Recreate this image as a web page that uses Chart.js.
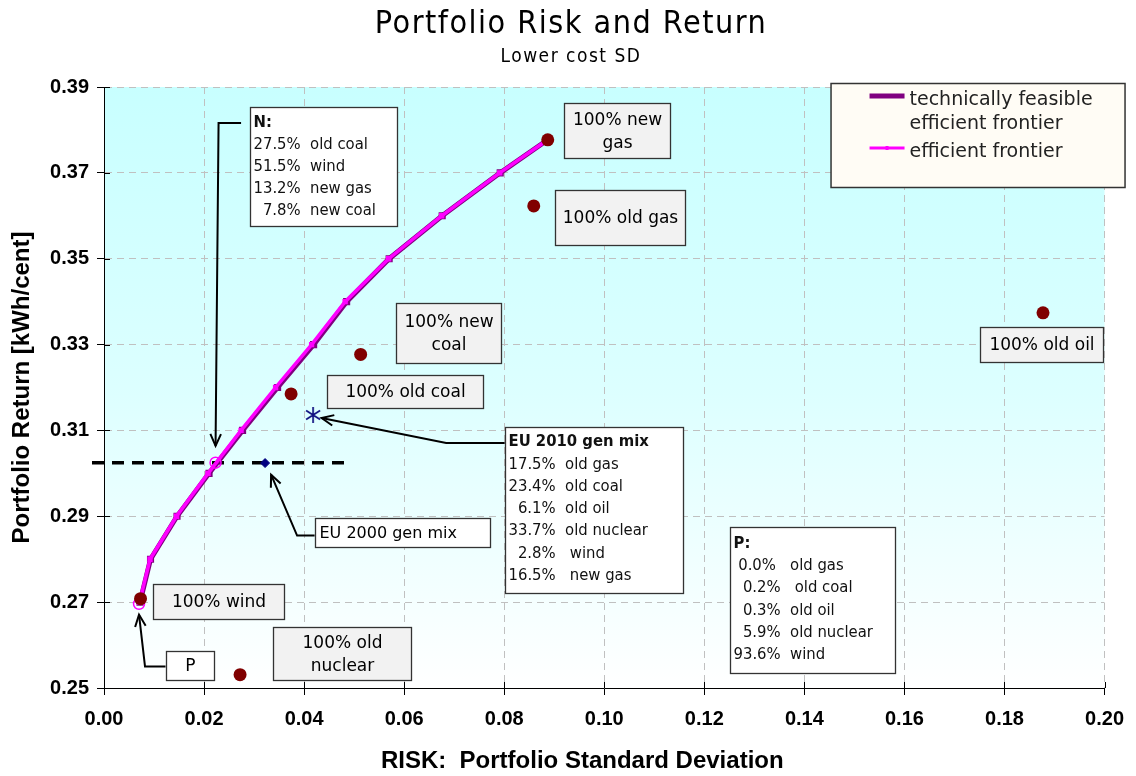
<!DOCTYPE html>
<html>
<head>
<meta charset="utf-8">
<script src="https://cdn.jsdelivr.net/npm/chart.js@4.4.1/dist/chart.umd.min.js"></script>
<style>
html,body{margin:0;padding:0;background:#ffffff;}
#wrap{width:1136px;height:776px;}
</style>
</head>
<body>
<div id="wrap"><canvas id="c" width="1136" height="776"></canvas></div>
<script>
// ---------- data ----------
const xTickValues = [0.00, 0.02, 0.04, 0.06, 0.08, 0.10, 0.12, 0.14, 0.16, 0.18, 0.20];
const xTickLabels = ['0.00','0.02','0.04','0.06','0.08','0.10','0.12','0.14','0.16','0.18','0.20'];
const yTickValues = [0.25, 0.27, 0.29, 0.31, 0.33, 0.35, 0.37, 0.39];
const yTickLabels = ['0.25','0.27','0.29','0.31','0.33','0.35','0.37','0.39'];

const efficientRisk   = [0.0071, 0.0092, 0.0145, 0.0208, 0.0274, 0.0343, 0.0415, 0.0482, 0.0569, 0.0675, 0.0791, 0.0887];
const efficientReturn = [0.2700, 0.2800, 0.2900, 0.3000, 0.3100, 0.3200, 0.3300, 0.3400, 0.3500, 0.3600, 0.3700, 0.3777];
const feasibleRisk    = [0.0072, 0.0093, 0.0146, 0.0210, 0.0277, 0.0347, 0.0419, 0.0485, 0.0570, 0.0676, 0.0792, 0.0887];
const feasibleReturn  = [0.2700, 0.2800, 0.2900, 0.3000, 0.3100, 0.3200, 0.3300, 0.3400, 0.3500, 0.3600, 0.3700, 0.3777];

const techNames  = ['100% new gas','100% old gas','100% old oil','100% new coal','100% old coal','100% wind','100% old nuclear'];
const techRisk   = [0.0887, 0.0859, 0.1877, 0.0513, 0.0374, 0.0073, 0.0272];
const techReturn = [0.3777, 0.3623, 0.3374, 0.3277, 0.3185, 0.2708, 0.2531];
const techLabelLines = [['100% new','gas'],['100% old gas'],['100% old oil'],['100% new','coal'],['100% old coal'],['100% wind'],['100% old','nuclear']];

const mixNames  = ['EU 2010 gen mix','EU 2000 gen mix'];
const mixRisk   = [0.0418, 0.0322];
const mixReturn = [0.3136, 0.3024];

const optNames  = ['N','P'];
const optRisk   = [0.0223, 0.0070];
const optReturn = [0.3025, 0.2696];

const refLineRisk   = [-0.0024, 0.0483];
const refLineReturn = [0.3025, 0.3025];

const nBoxLines   = ['N:','27.5%  old coal','51.5%  wind','13.2%  new gas','  7.8%  new coal'];
const euBoxLines  = ['EU 2010 gen mix','17.5%  old gas','23.4%  old coal','  6.1%  old oil','33.7%  old nuclear','  2.8%   wind','16.5%   new gas'];
const pBoxLines   = ['P:',' 0.0%   old gas','  0.2%   old coal','  0.3%  old oil','  5.9%  old nuclear','93.6%  wind'];

const legendLabels = [['technically feasible','efficient frontier'],['efficient frontier']];

// ---------- annotation placement (data units) ----------
const labelBoxPos = [
  [0.0920, 0.3863, 0.1131, 0.3735],
  [0.0901, 0.3660, 0.1161, 0.3532],
  [0.1751, 0.3341, 0.1996, 0.3260],
  [0.0584, 0.3397, 0.0793, 0.3257],
  [0.0445, 0.3229, 0.0757, 0.3153],
  [0.0097, 0.2743, 0.0360, 0.2661],
  [0.0338, 0.2643, 0.0614, 0.2519]
];
const eu2000BoxPos = [0.0422, 0.2897, 0.0771, 0.2829];
const pSmallBoxPos = [0.0123, 0.2587, 0.0219, 0.2519];
const nBoxPos  = [0.0292, 0.3853, 0.0586, 0.3576];
const euBoxPos = [0.0801, 0.3108, 0.1157, 0.2722];
const pBoxPos  = [0.1251, 0.2876, 0.1581, 0.2536];
const arrows = [
  [[0.0274,0.3816],[0.0229,0.3816],[0.0223,0.3064]],
  [[0.0801,0.3071],[0.0684,0.3071],[0.0435,0.3129]],
  [[0.0421,0.2855],[0.0386,0.2855],[0.0334,0.2997]],
  [[0.0123,0.2550],[0.0082,0.2550],[0.0070,0.2671]]
];

// ---------- styles ----------
const SANS = '"Liberation Sans", Arial, sans-serif';
const NARROW = '"Liberation Sans Narrow", "DejaVu Sans Condensed", "Liberation Sans", sans-serif';
const BOXFONT = '"DejaVu Sans", Verdana, sans-serif';
const BOXFONT_C = '"DejaVu Sans Condensed", "DejaVu Sans", sans-serif';

const asterisk = document.createElement('canvas');
asterisk.width = 18; asterisk.height = 18;
(function(){
  const c = asterisk.getContext('2d');
  c.strokeStyle = '#101080'; c.lineWidth = 1.7;
  c.beginPath();
  c.moveTo(9,1); c.lineTo(9,17);
  c.moveTo(2,4.5); c.lineTo(16,13.5);
  c.moveTo(16,4.5); c.lineTo(2,13.5);
  c.stroke();
})();

const pts = (xs, ys) => xs.map((x,i)=>({x:x, y:ys[i]}));

function drawArrow(ctx, p){
  ctx.beginPath();
  ctx.moveTo(p[0][0], p[0][1]);
  for (let i=1;i<p.length;i++) ctx.lineTo(p[i][0], p[i][1]);
  ctx.stroke();
  const [x1,y1] = p[p.length-2], [x2,y2] = p[p.length-1];
  const a = Math.atan2(y2-y1, x2-x1), L = 13, w = 0.42;
  ctx.beginPath();
  ctx.moveTo(x2 - L*Math.cos(a-w), y2 - L*Math.sin(a-w));
  ctx.lineTo(x2, y2);
  ctx.lineTo(x2 - L*Math.cos(a+w), y2 - L*Math.sin(a+w));
  ctx.stroke();
}

const bgPlugin = {
  id: 'bg',
  beforeDraw(chart){
    const {ctx, chartArea:a} = chart;
    ctx.save();
    ctx.fillStyle = '#ffffff';
    ctx.fillRect(0,0,chart.width,chart.height);
    const g = ctx.createLinearGradient(0, a.top, 0, a.bottom);
    g.addColorStop(0, '#c8ffff');
    g.addColorStop(0.5, '#dcffff');
    g.addColorStop(1, '#ffffff');
    ctx.fillStyle = g;
    ctx.fillRect(a.left, a.top, a.right-a.left, a.bottom-a.top);
    ctx.restore();
  }
};

const annPlugin = {
  id: 'ann',
  afterDatasetsDraw(chart){
    const {ctx, scales:{x, y}} = chart;
    const X = v => x.getPixelForValue(v), Y = v => y.getPixelForValue(v);
    ctx.save();
    // arrows
    ctx.strokeStyle = '#000'; ctx.lineWidth = 2; ctx.lineJoin = 'miter';
    arrows.forEach(a => drawArrow(ctx, a.map(q => [X(q[0]), Y(q[1])])));

    const rect = (b, fill) => {
      const x1 = Math.round(X(b[0]))+0.5, y1 = Math.round(Y(b[1]))+0.5;
      const x2 = Math.round(X(b[2]))+0.5, y2 = Math.round(Y(b[3]))+0.5;
      ctx.fillStyle = fill; ctx.fillRect(x1,y1,x2-x1,y2-y1);
      ctx.strokeStyle = '#333'; ctx.lineWidth = 1.3; ctx.strokeRect(x1,y1,x2-x1,y2-y1);
      return {x1,y1,x2,y2};
    };
    // technology label boxes
    ctx.textBaseline = 'middle';
    labelBoxPos.forEach((b,i) => {
      const r = rect(b, '#f2f2f2');
      const lines = techLabelLines[i];
      const lh = 23, cx = (r.x1+r.x2)/2, cy = (r.y1+r.y2)/2;
      ctx.fillStyle = '#000'; ctx.font = '17px ' + BOXFONT; ctx.textAlign = 'center';
      lines.forEach((t,k) => ctx.fillText(t, cx, cy + (k - (lines.length-1)/2)*lh + 1));
    });
    // EU 2000 label
    {
      const r = rect(eu2000BoxPos, '#ffffff');
      ctx.fillStyle = '#000'; ctx.font = '16px ' + BOXFONT; ctx.textAlign = 'left';
      ctx.fillText(mixNames[1], r.x1 + 4, (r.y1+r.y2)/2 + 1);
    }
    // P small label
    {
      const r = rect(pSmallBoxPos, '#ffffff');
      ctx.fillStyle = '#000'; ctx.font = '17px ' + BOXFONT; ctx.textAlign = 'center';
      ctx.fillText(optNames[1], (r.x1+r.x2)/2, (r.y1+r.y2)/2 + 1);
    }
    // composition boxes
    const compBox = (pos, lines, firstOff, lh) => {
      const r = rect(pos, '#ffffff');
      ctx.fillStyle = '#111'; ctx.textAlign = 'left';
      lines.forEach((t,k) => {
        ctx.font = (k===0 ? 'bold ' : '') + '16.5px ' + BOXFONT_C;
        ctx.fillText(t, r.x1 + 3, r.y1 + firstOff + k*lh);
      });
    };
    compBox(nBoxPos, nBoxLines, 15.5, 22);
    compBox(euBoxPos, euBoxLines, 14.5, 22.3);
    compBox(pBoxPos, pBoxLines, 16, 22.3);
    ctx.restore();
  },
  afterDraw(chart){
    const {ctx, chartArea:a, scales:{x, y}} = chart;
    ctx.save();
    // inner halves of tick marks
    ctx.strokeStyle = '#000'; ctx.lineWidth = 1;
    ctx.beginPath();
    xTickValues.forEach(v => { const px = Math.round(x.getPixelForValue(v))+0.5; ctx.moveTo(px, a.bottom); ctx.lineTo(px, a.bottom-6); });
    yTickValues.forEach(v => { const py = Math.round(y.getPixelForValue(v))+0.5; ctx.moveTo(a.left, py); ctx.lineTo(a.left+6, py); });
    ctx.stroke();

    // titles
    ctx.fillStyle = '#000'; ctx.textAlign = 'center'; ctx.textBaseline = 'alphabetic';
    const cx = chart.width/2 + 3;
    if ('letterSpacing' in ctx) ctx.letterSpacing = '1.5px';
    ctx.font = '32px ' + NARROW;
    ctx.fillText('Portfolio Risk and Return', cx, 33);
    if ('letterSpacing' in ctx) ctx.letterSpacing = '1.5px';
    ctx.font = '19px ' + NARROW;
    ctx.fillText('Lower cost SD', cx, 62);
    if ('letterSpacing' in ctx) ctx.letterSpacing = '0px';
    ctx.font = 'bold 24px ' + SANS;
    ctx.fillText('RISK:  Portfolio Standard Deviation', (a.left + a.right)/2 - 22, 768);

    // legend box
    const lx = a.right - 274, ly = a.top - 4, lw = 294, lh = 104;
    ctx.fillStyle = '#fffcf5'; ctx.fillRect(lx+0.5, ly+0.5, lw, lh);
    ctx.strokeStyle = '#333'; ctx.lineWidth = 1.5; ctx.strokeRect(lx+0.5, ly+0.5, lw, lh);
    const ds = chart.data.datasets;
    const feas = ds.find(d => d.id === 'feasible'), eff = ds.find(d => d.id === 'efficient');
    ctx.lineCap = 'butt';
    ctx.strokeStyle = feas.borderColor; ctx.lineWidth = 5;
    ctx.beginPath(); ctx.moveTo(lx+39, ly+13); ctx.lineTo(lx+74, ly+13); ctx.stroke();
    ctx.strokeStyle = eff.borderColor; ctx.lineWidth = 3;
    ctx.beginPath(); ctx.moveTo(lx+39, ly+65); ctx.lineTo(lx+74, ly+65); ctx.stroke();
    ctx.fillStyle = eff.borderColor; ctx.fillRect(lx+55, ly+63, 3, 4);
    ctx.fillStyle = '#222'; ctx.textAlign = 'left'; ctx.textBaseline = 'middle';
    ctx.font = '19px ' + BOXFONT;
    ctx.fillText(legendLabels[0][0], lx+79, ly+17);
    ctx.fillText(legendLabels[0][1], lx+79, ly+41);
    ctx.fillText(legendLabels[1][0], lx+79, ly+69);
    ctx.restore();
  }
};

const gridCommon = {
  color: '#c0c0c0', lineWidth: 1, tickColor: '#000', tickLength: 7, drawTicks: true
};
const borderCommon = { display: true, color: '#000', width: 1, dash: [7,5] };

const chart = new Chart(document.getElementById('c'), {
  type: 'scatter',
  data: {
    datasets: [
      { label: 'technologies', data: pts(techRisk, techReturn), backgroundColor: '#800000', borderColor: '#800000',
        pointRadius: 6.5, pointHoverRadius: 6.5, borderWidth: 0, order: 0 },
      { label: mixNames[0], data: [{x: mixRisk[0], y: mixReturn[0]}], pointStyle: asterisk, pointRadius: 9, order: 0 },
      { label: mixNames[1], data: [{x: mixRisk[1], y: mixReturn[1]}], pointStyle: 'rectRot', pointRadius: 4.5,
        backgroundColor: '#000080', borderColor: '#000080', borderWidth: 1, order: 0 },
      { label: 'N / P', data: pts(optRisk, optReturn), pointStyle: 'circle', pointRadius: 5.5,
        backgroundColor: 'rgba(255,255,255,0)', borderColor: '#ff00ff', borderWidth: 1.5, order: 1 },
      { id: 'efficient', label: 'efficient frontier', data: pts(efficientRisk, efficientReturn), showLine: true,
        borderColor: '#ff00ff', backgroundColor: '#ff00ff', borderWidth: 3.5, pointStyle: 'rect', pointRadius: 1.3, tension: 0, order: 2 },
      { id: 'feasible', label: 'technically feasible efficient frontier', data: pts(feasibleRisk, feasibleReturn), showLine: true,
        borderColor: '#800080', backgroundColor: '#800080', borderWidth: 5, pointStyle: 'rect', pointRadius: 1.5, tension: 0, order: 3 },
      { label: 'reference return', data: pts(refLineRisk, refLineReturn), showLine: true, borderColor: '#000',
        borderWidth: 3.5, borderDash: [12, 8], pointRadius: 0, clip: false, order: 4 }
    ]
  },
  options: {
    responsive: false,
    animation: false,
    devicePixelRatio: 1,
    layout: { padding: { top: 87, right: 26, bottom: 0, left: 0 } },
    plugins: { legend: { display: false }, tooltip: { enabled: false }, title: { display: false } },
    events: [],
    scales: {
      x: {
        type: 'linear', min: 0, max: 0.2,
        afterBuildTicks: s => { s.ticks = xTickValues.map(v => ({ value: v })); },
        afterFit: s => { s.height = 88; },
        ticks: { callback: (v, i) => xTickLabels[i], color: '#000', padding: 12, maxRotation: 0, autoSkip: false,
                 font: { family: SANS, size: 20, weight: 'bold' } },
        grid: gridCommon, border: borderCommon,
        title: { display: false }
      },
      y: {
        type: 'linear', min: 0.25, max: 0.39,
        afterBuildTicks: s => { s.ticks = yTickValues.map(v => ({ value: v })); },
        afterFit: s => { s.width = 104; },
        ticks: { callback: (v, i) => yTickLabels[i], color: '#000', padding: 8, autoSkip: false,
                 font: { family: SANS, size: 20, weight: 'bold' } },
        grid: gridCommon, border: borderCommon,
        title: { display: true, text: 'Portfolio Return [kWh/cent]', color: '#000',
                 font: { family: SANS, size: 24, weight: 'bold' }, padding: { top: 8, bottom: 0 } }
      }
    }
  },
  plugins: [bgPlugin, annPlugin]
});
</script>
</body>
</html>
